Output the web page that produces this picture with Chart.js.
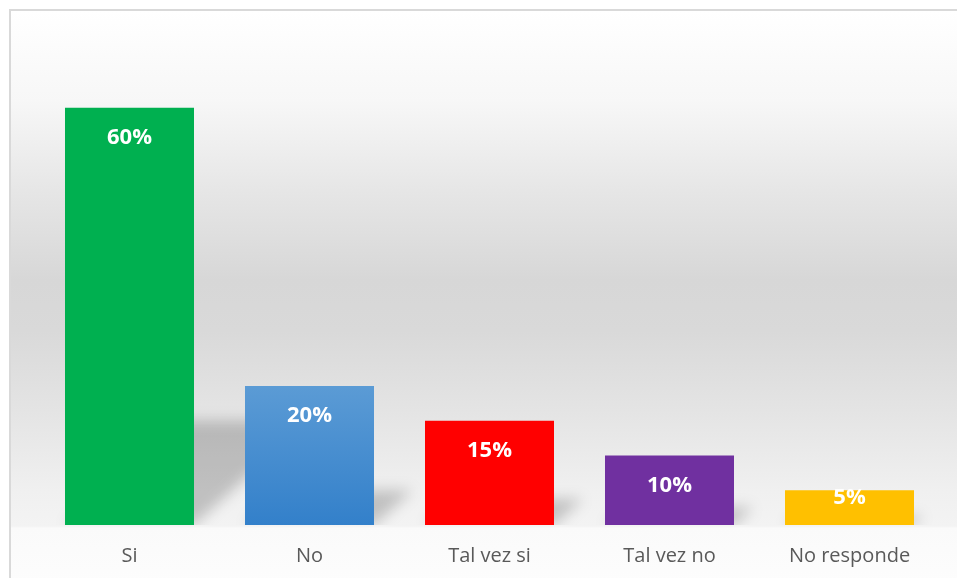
<!DOCTYPE html>
<html><head><meta charset="utf-8">
<script src="https://cdn.jsdelivr.net/npm/chart.js@4/dist/chart.umd.min.js"></script>
<style>
html,body{margin:0;padding:0;background:#fff;overflow:hidden;width:957px;height:578px;}
#frame{position:absolute;left:9px;top:9px;width:960px;height:580px;border-left:2px solid #d9d9d9;border-top:2px solid #d9d9d9;
background:linear-gradient(to bottom,#ffffff 0px,#f7f7f7 90px,#e6e6e6 180px,#d7d7d7 270px,#d9d9d9 320px,#e4e4e4 400px,#f0f0f0 480px,#f3f3f3 515px,#fafafa 517px,#fdfdfd 580px);}
#wrap{position:absolute;left:0;top:0;width:957px;height:597px;}
</style></head>
<body><div id="frame"></div><div id="wrap"><canvas id="c"></canvas></div>
<script>
const categories = ['Si', 'No', 'Tal vez si', 'Tal vez no', 'No responde'];
const values = [60, 20, 15, 10, 5];
const valueLabels = ['60%', '20%', '15%', '10%', '5%'];
const barColors = ['#00b050', '#5b9bd5', '#ff0000', '#7030a0', '#ffc000'];
const blueBottom = '#3380ca';

const shadowPlugin = {
  id: 'shadows',
  beforeDatasetsDraw(chart) {
    const ctx = chart.ctx, ca = chart.chartArea;
    const meta = chart.getDatasetMeta(0);
    ctx.save();
    ctx.beginPath();
    ctx.rect(0, 0, chart.width, ca.bottom);
    ctx.clip();
    ctx.filter = 'blur(7px)';
    ctx.fillStyle = 'rgba(0,0,0,0.2)';
    meta.data.forEach(bar => {
      const h = bar.base - bar.y;
      const sh = h * 0.25;
      const dx = sh * 1.1;
      const l = bar.x - bar.width / 2, r = bar.x + bar.width / 2;
      ctx.beginPath();
      ctx.moveTo(l, bar.base);
      ctx.lineTo(r, bar.base);
      ctx.lineTo(r + dx, bar.base - sh);
      ctx.lineTo(l + dx, bar.base - sh);
      ctx.closePath();
      ctx.fill();
    });
    ctx.restore();
  }
};

const labelPlugin = {
  id: 'valueLabels',
  afterDatasetsDraw(chart) {
    const ctx = chart.ctx;
    const meta = chart.getDatasetMeta(0);
    ctx.save();
    ctx.font = 'bold 22px "Open Sans"';
    ctx.fillStyle = '#ffffff';
    ctx.textAlign = 'center';
    ctx.textBaseline = 'middle';
    meta.data.forEach((bar, i) => {
      const y = Math.min(bar.y + 30, bar.base - 27);
      ctx.fillText(valueLabels[i], bar.x, y);
    });
    ctx.restore();
  }
};

new Chart(document.getElementById('c'), {
  type: 'bar',
  data: {
    labels: categories,
    datasets: [{
      data: values,
      backgroundColor: (c) => {
        const i = c.dataIndex;
        if (i !== 1) return barColors[i];
        const chart = c.chart;
        if (!chart.chartArea || !chart.scales.y) return barColors[i];
        const ys = chart.scales.y;
        const top = ys.getPixelForValue(values[i]);
        const bot = ys.getPixelForValue(0);
        const g = chart.ctx.createLinearGradient(0, top, 0, bot);
        g.addColorStop(0, barColors[i]);
        g.addColorStop(1, blueBottom);
        return g;
      },
      borderWidth: 0,
      barPercentage: 0.7167,
      categoryPercentage: 1
    }]
  },
  options: {
    responsive: true,
    maintainAspectRatio: false,
    devicePixelRatio: 1,
    animation: false,
    layout: { padding: { left: 39.5, right: 17.5, top: 73, bottom: 10 } },
    plugins: { legend: { display: false }, tooltip: { enabled: false } },
    scales: {
      x: {
        grid: { display: false, drawTicks: false },
        border: { display: false },
        ticks: { color: '#595959', font: { family: '"Open Sans"', size: 20 }, padding: 19, maxRotation: 0 }
      },
      y: { display: false, min: 0, max: 65 }
    }
  },
  plugins: [shadowPlugin, labelPlugin]
});
</script>
</body></html>
